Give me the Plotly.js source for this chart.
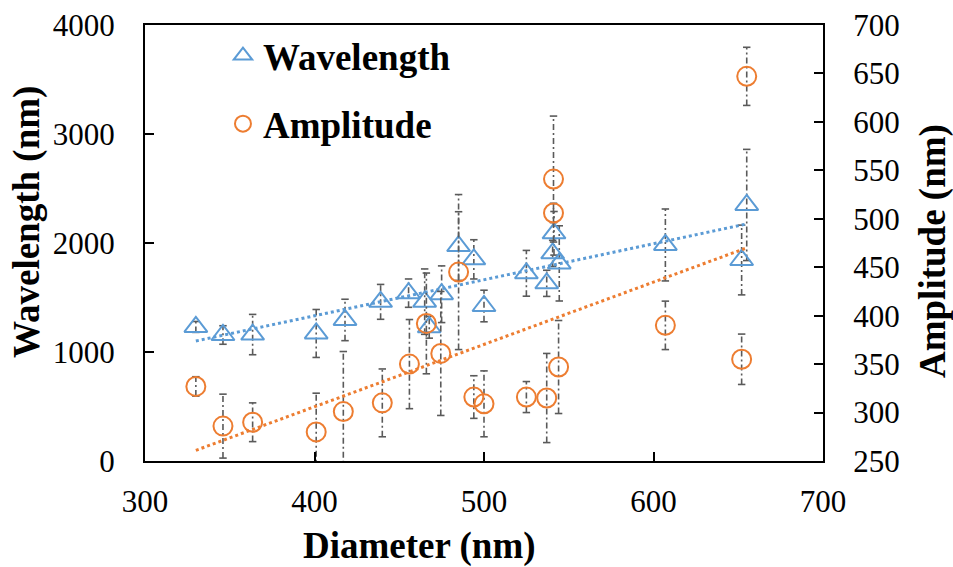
<!DOCTYPE html>
<html>
<head>
<meta charset="utf-8">
<script src="https://cdn.plot.ly/plotly-3.0.1.min.js"></script>
<style>html,body{margin:0;padding:0;background:#fff;}#chart{width:953px;height:567px;}</style>
</head>
<body>
<div id="chart"></div>
<script>
// Wavelength series (left axis)
const wlDiameter = [330, 346, 363.5, 401, 418, 439, 455.5, 465, 467.7, 475, 485, 494, 500, 525, 537, 540.5, 541.3, 544.4, 607, 652, 655];
const wlValue    = [1230, 1156, 1160, 1170, 1294, 1460, 1540, 1462, 1227, 1530, 1972, 1850, 1422, 1722, 1630, 1905, 2089, 1813, 1982, 1844, 2349];
const wlError    = [50, 85, 185, 220, 190, 160, 130, 300, 100, 260, 315, 180, 145, 210, 120, 120, 200, 345, 330, 320, 510];

// Amplitude series (right axis)
const ampDiameter = [330, 346, 363.5, 401, 417, 440, 456, 466, 474.5, 485, 494, 500, 525, 537, 541, 541, 544, 607, 652, 655];
const ampValue    = [327, 286, 290, 280, 301, 310, 350, 392, 361, 445, 316, 309, 316, 315, 541, 506, 347, 390, 355, 647];
const ampError    = [10, 33, 20, 40, 62, 35, 46, 52, 64, 80, 22, 34, 16, 46, 65, 10, 48, 25, 26, 30];

// Linear trend lines (end points)
const trendDiameter = [330, 655];
const wlTrend  = [1101, 2175];
const ampTrend = [261, 470];

// Texts
const xTitle = 'Diameter (nm)';
const yTitle = 'Wavelength (nm)';
const y2Title = 'Amplitude (nm)';

const blue = '#5B9BD5', orange = '#ED7D31', gray = '#5a5a5a';
const capHalf = 2.2;

function errTraces(xs, ys, es, yaxis) {
  const bx = [], by = [], cx = [], cy = [];
  xs.forEach((x, i) => {
    const lo = ys[i] - es[i], hi = ys[i] + es[i];
    bx.push(x, x, null); by.push(lo, hi, null);
    cx.push(x - capHalf, x + capHalf, null, x - capHalf, x + capHalf, null);
    cy.push(lo, lo, null, hi, hi, null);
  });
  return [
    {x: bx, y: by, yaxis: yaxis, mode: 'lines', showlegend: false, hoverinfo: 'skip',
     line: {color: gray, width: 1.6, dash: '6px,3px,2px,3px'}},
    {x: cx, y: cy, yaxis: yaxis, mode: 'lines', showlegend: false, hoverinfo: 'skip',
     line: {color: gray, width: 1.6}}
  ];
}

const font = 'Liberation Serif, Times New Roman, serif';

const traces = [
  ...errTraces(wlDiameter, wlValue, wlError, 'y'),
  {x: trendDiameter, y: wlTrend, yaxis: 'y', mode: 'lines', showlegend: false, hoverinfo: 'skip',
   line: {color: blue, width: 3, dash: 'dot'}},
  {x: wlDiameter, y: wlValue, yaxis: 'y', mode: 'markers', name: 'Wavelength', legendgroup: 'a',
   marker: {symbol: 'triangle-up-open', size: 20, color: blue, line: {width: 2, color: blue}}},
  ...errTraces(ampDiameter, ampValue, ampError, 'y2'),
  {x: trendDiameter, y: ampTrend, yaxis: 'y2', mode: 'lines', showlegend: false, hoverinfo: 'skip',
   line: {color: orange, width: 3, dash: 'dot'}},
  {x: ampDiameter, y: ampValue, yaxis: 'y2', mode: 'markers', name: 'Amplitude', legendgroup: 'b',
   marker: {symbol: 'circle-open', size: 19, color: orange, line: {width: 2, color: orange}}}
];

const axisCommon = {
  showgrid: false, zeroline: false, showline: true, linecolor: '#000', linewidth: 2,
  ticks: 'inside', ticklen: 9, tickwidth: 2, tickcolor: '#000',
  tickfont: {family: font, size: 31, color: '#000'}
};

const titleFont = {family: font, size: 37, color: '#000', weight: 'bold'};

const layout = {
  width: 953, height: 567,
  margin: {l: 145, r: 130, t: 25, b: 106},
  paper_bgcolor: '#fff', plot_bgcolor: '#fff',
  font: {family: font, color: '#000'},
  showlegend: true,
  legend: {x: 0.115, y: 1.0, xanchor: 'left', yanchor: 'top', bgcolor: 'rgba(0,0,0,0)',
           font: {family: font, size: 37, color: '#000', weight: 'bold'}, tracegroupgap: 17},
  xaxis: Object.assign({}, axisCommon, {
    range: [300, 700], dtick: 100, tick0: 300, mirror: true, ticklabelstandoff: 12
  }),
  yaxis: Object.assign({}, axisCommon, {
    range: [0, 4000], dtick: 1000, tick0: 0, ticklabelstandoff: 22
  }),
  yaxis2: Object.assign({}, axisCommon, {
    range: [250, 700], dtick: 50, tick0: 250, overlaying: 'y', side: 'right', ticklabelstandoff: 22
  }),
  annotations: [
    {text: xTitle, xref: 'paper', yref: 'paper', x: (419 - 145) / 678, y: -(546 - 461) / 436,
     xanchor: 'center', yanchor: 'middle', showarrow: false, font: titleFont},
    {text: yTitle, xref: 'paper', yref: 'paper', x: -(145 - 27) / 678, y: (461 - 222) / 436,
     xanchor: 'center', yanchor: 'middle', textangle: -90, showarrow: false, font: titleFont},
    {text: y2Title, xref: 'paper', yref: 'paper', x: 1 + (933 - 823) / 678, y: (461 - 251) / 436,
     xanchor: 'center', yanchor: 'middle', textangle: -90, showarrow: false, font: titleFont}
  ]
};

Plotly.newPlot('chart', traces, layout, {displayModeBar: false, staticPlot: true});
</script>
</body>
</html>
